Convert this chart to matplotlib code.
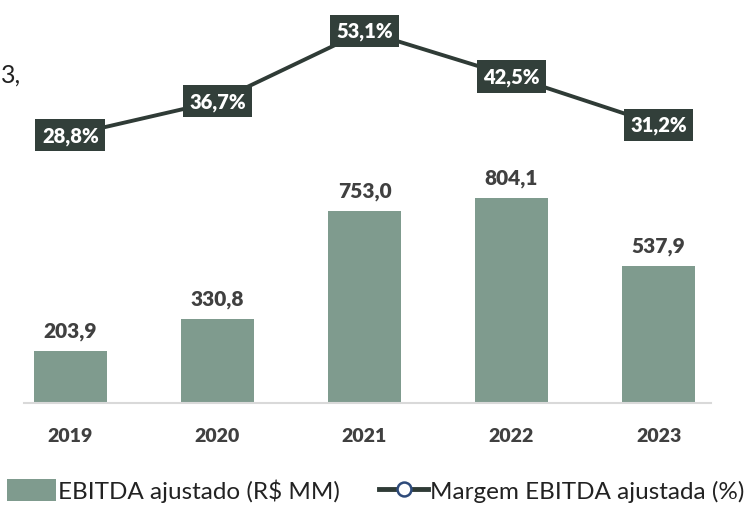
import matplotlib.pyplot as plt
from matplotlib.patches import Patch
from matplotlib.lines import Line2D

years = ['2019', '2020', '2021', '2022', '2023']
ebitda = [203.9, 330.8, 753.0, 804.1, 537.9]
margem = [28.8, 36.7, 53.1, 42.5, 31.2]

bar_color = '#7F9B8E'
line_color = '#2F3B36'
text_color = '#404040'

plt.rcParams['font.family'] = ['Lato', 'DejaVu Sans']

fig = plt.figure(figsize=(7.55, 5.06), dpi=100)
ax = fig.add_axes([24 / 755, 102 / 506, 687 / 755, 384 / 506])

x = range(len(years))
ax.bar(x, ebitda, width=0.5, color=bar_color, zorder=2)
for xi, v in zip(x, ebitda):
    ax.annotate(f'{v:.1f}'.replace('.', ','), (xi, v), xytext=(0, 8),
                textcoords='offset points', ha='center', va='bottom',
                fontsize=15, fontweight='heavy', color=text_color)

ax.set_xlim(-0.316, 4.357)
ax.set_ylim(0, 1506)
ax.set_xticks(list(x))
ax.set_xticklabels(years, fontsize=14, fontweight='heavy', color=text_color)
ax.tick_params(axis='x', length=0, pad=17)
ax.set_yticks([])
for s in ['top', 'left', 'right']:
    ax.spines[s].set_visible(False)
ax.spines['bottom'].set_color('#D9D9D9')
ax.spines['bottom'].set_linewidth(1.5)

ax2 = ax.twinx()
ax2.plot(list(x), margem, color=line_color, lw=2.8, zorder=3)
for xi, v in zip(x, margem):
    ax2.text(xi, v, f'{v:.1f}%'.replace('.', ','), ha='center', va='center',
             fontsize=14.5, fontweight='heavy', color='white', zorder=4,
             bbox=dict(boxstyle='square,pad=0.33', fc='#323F3A', ec='none'))
ax2.set_ylim(-33.8, 55.9)
ax2.set_yticks([])
for s in ax2.spines.values():
    s.set_visible(False)

# fragment of text at the left edge of the screenshot
fig.text(0.001, 0.852, '3,', fontsize=18, color='#222222', ha='left', va='center')

handles = [Patch(facecolor=bar_color, edgecolor='none'),
           Line2D([0], [0], color=line_color, lw=3.5, marker='o', markersize=10,
                  markerfacecolor='white', markeredgecolor='#2E4A7A', markeredgewidth=1.8)]
labels = ['EBITDA ajustado (R$ MM)', 'Margem EBITDA ajustada (%)']
fig.legend(handles, labels, loc='lower left', bbox_to_anchor=(-0.003, -0.014),
           ncol=2, frameon=False, fontsize=17.5, handlelength=2.0, handleheight=1.0,
           handletextpad=0.1, columnspacing=1.6, borderaxespad=0, labelcolor='#222222')

fig.savefig('out.png', dpi=100)
